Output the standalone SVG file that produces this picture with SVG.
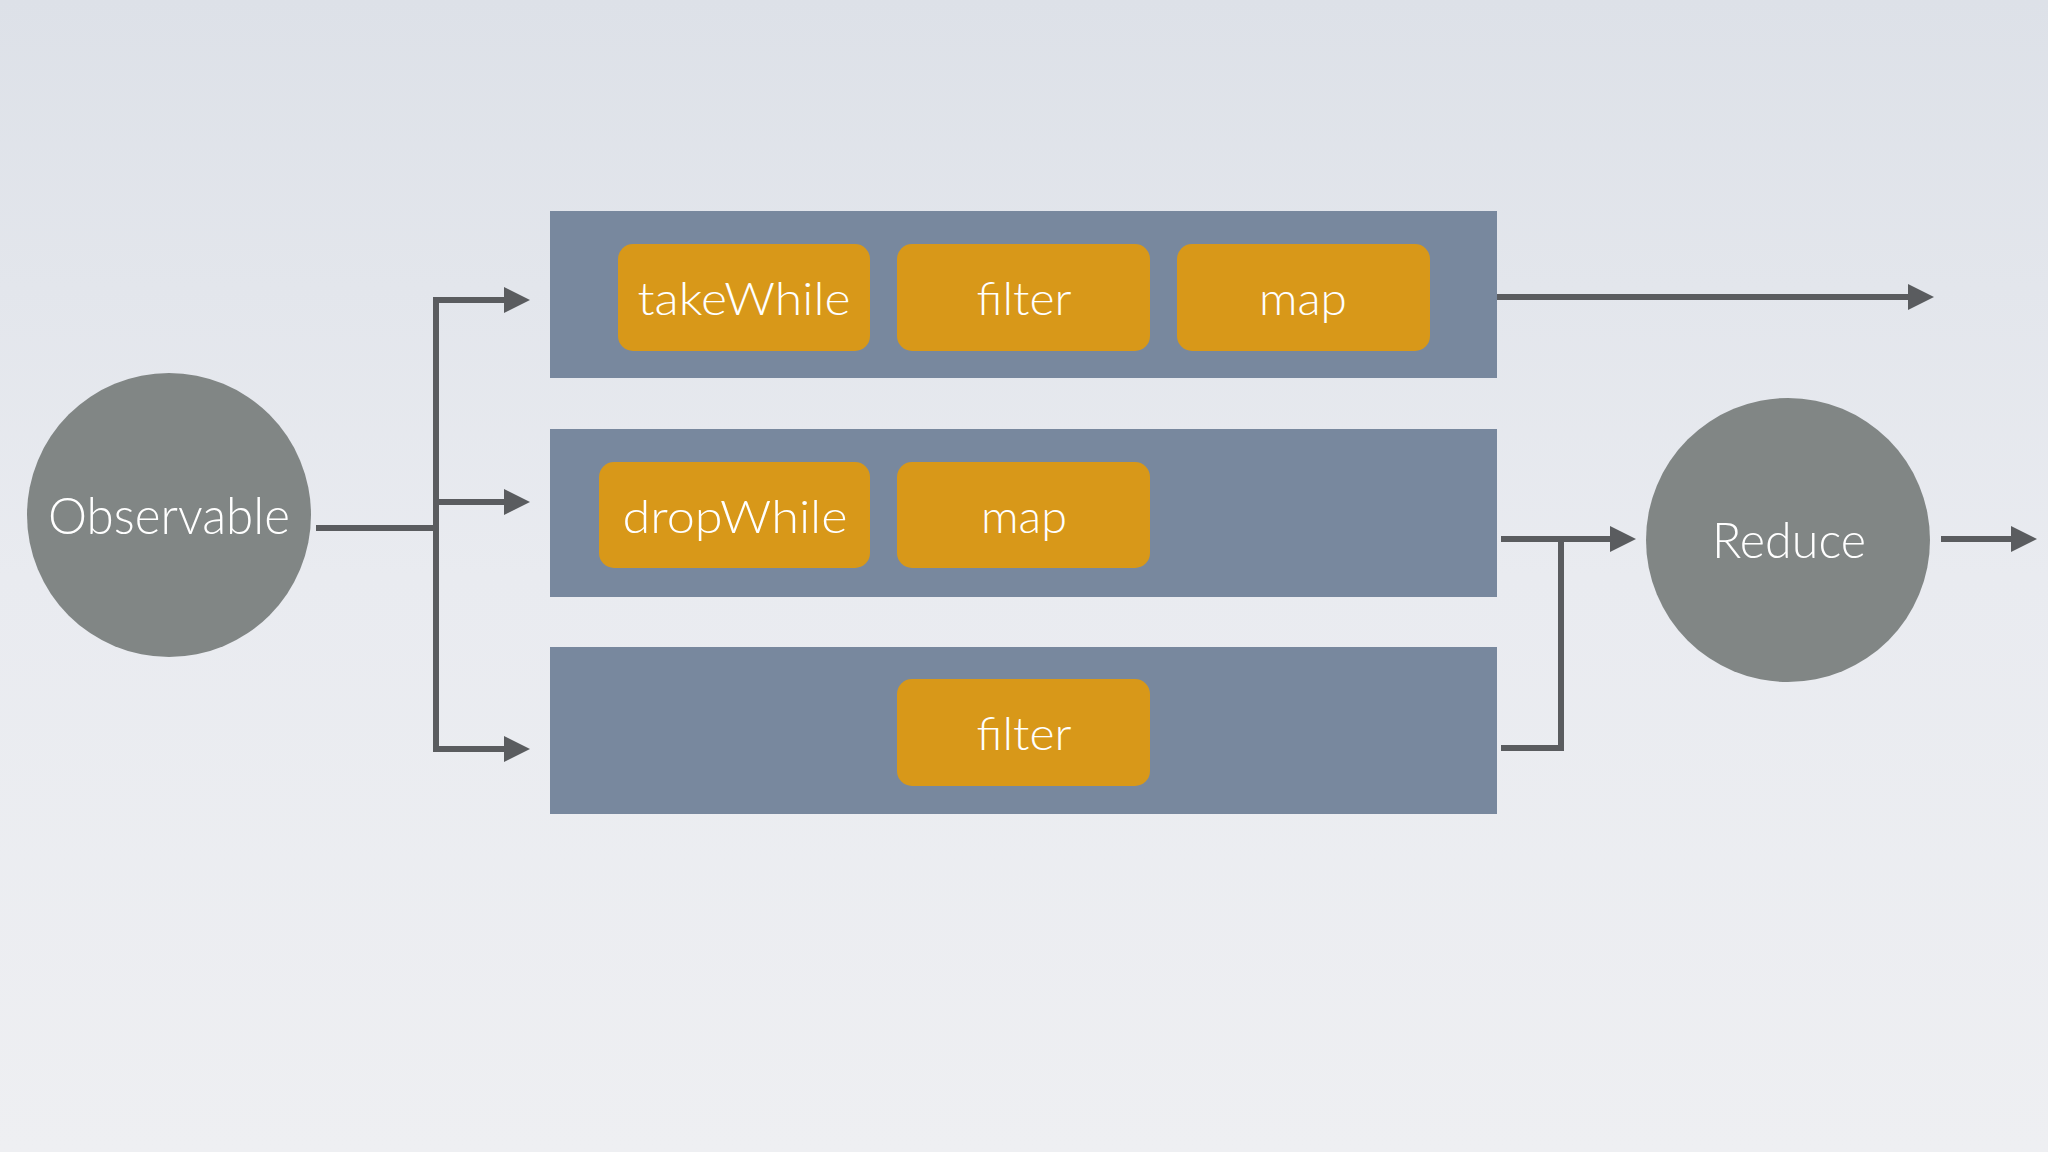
<svg xmlns="http://www.w3.org/2000/svg" width="2048" height="1152" viewBox="0 0 2048 1152">
<defs>
<linearGradient id="bg" x1="0" y1="0" x2="0" y2="1">
<stop offset="0" stop-color="#dde1e8"/>
<stop offset="0.5" stop-color="#e9ebf0"/>
<stop offset="1" stop-color="#eeeff2"/>
</linearGradient>
<marker id="arr" markerUnits="userSpaceOnUse" markerWidth="28" markerHeight="28" refX="0" refY="13" orient="auto" viewBox="0 0 28 26">
<path d="M0 0 L26 13 L0 26 Z" fill="#5a5c5f"/>
</marker>
<style>
.band{fill:#78889e}
.op{fill:#d89819}
.circ{fill:#818685}
.lbl{font-family:"Lato","Open Sans","Liberation Sans",sans-serif;font-weight:300;fill:#ffffff;text-anchor:middle}
.conn{fill:none;stroke:#5a5c5f;stroke-width:6}
</style>
</defs>
<rect x="0" y="0" width="2048" height="1152" fill="url(#bg)"/>

<g id="band-top"><rect class="band" x="550" y="211" width="947" height="167"/></g>
<g id="band-mid"><rect class="band" x="550" y="429" width="947" height="168"/></g>
<g id="band-bot"><rect class="band" x="550" y="647" width="947" height="167"/></g>

<g id="takeWhile"><rect class="op" x="618" y="244" width="252" height="107" rx="15"/><text class="lbl" x="744" y="315" font-size="46" textLength="213" lengthAdjust="spacingAndGlyphs">takeWhile</text></g>
<g id="filter-top"><rect class="op" x="897" y="244" width="253" height="107" rx="15"/><text class="lbl" x="1024" y="315" font-size="46" textLength="95" lengthAdjust="spacingAndGlyphs">filter</text></g>
<g id="map-top"><rect class="op" x="1177" y="244" width="253" height="107" rx="15"/><text class="lbl" x="1303" y="315" font-size="46" textLength="88" lengthAdjust="spacingAndGlyphs">map</text></g>
<g id="dropWhile"><rect class="op" x="599" y="462" width="271" height="106" rx="15"/><text class="lbl" x="735" y="533" font-size="46" textLength="225" lengthAdjust="spacingAndGlyphs">dropWhile</text></g>
<g id="map-mid"><rect class="op" x="897" y="462" width="253" height="106" rx="15"/><text class="lbl" x="1024" y="533" font-size="46" textLength="86" lengthAdjust="spacingAndGlyphs">map</text></g>
<g id="filter-bot"><rect class="op" x="897" y="679" width="253" height="107" rx="15"/><text class="lbl" x="1024" y="750" font-size="46" textLength="95" lengthAdjust="spacingAndGlyphs">filter</text></g>

<g id="observable"><circle class="circ" cx="169" cy="515" r="142"/><text class="lbl" x="169" y="534" font-size="52" textLength="242" lengthAdjust="spacingAndGlyphs">Observable</text></g>
<g id="reduce"><circle class="circ" cx="1788" cy="540" r="142"/><text class="lbl" x="1789" y="558" font-size="50" textLength="154" lengthAdjust="spacingAndGlyphs">Reduce</text></g>

<g id="connectors">
<path class="conn" d="M316 528 H436"/>
<path class="conn" d="M436 300 V749"/>
<path class="conn" d="M433 300 H504" marker-end="url(#arr)"/>
<path class="conn" d="M436 502 H504" marker-end="url(#arr)"/>
<path class="conn" d="M433 749 H504" marker-end="url(#arr)"/>
<path class="conn" d="M1497 297 H1908" marker-end="url(#arr)"/>
<path class="conn" d="M1501 539 H1610" marker-end="url(#arr)"/>
<path class="conn" d="M1501 748 H1561 V539"/>
<path class="conn" d="M1941 539 H2011" marker-end="url(#arr)"/>
</g>
</svg>
